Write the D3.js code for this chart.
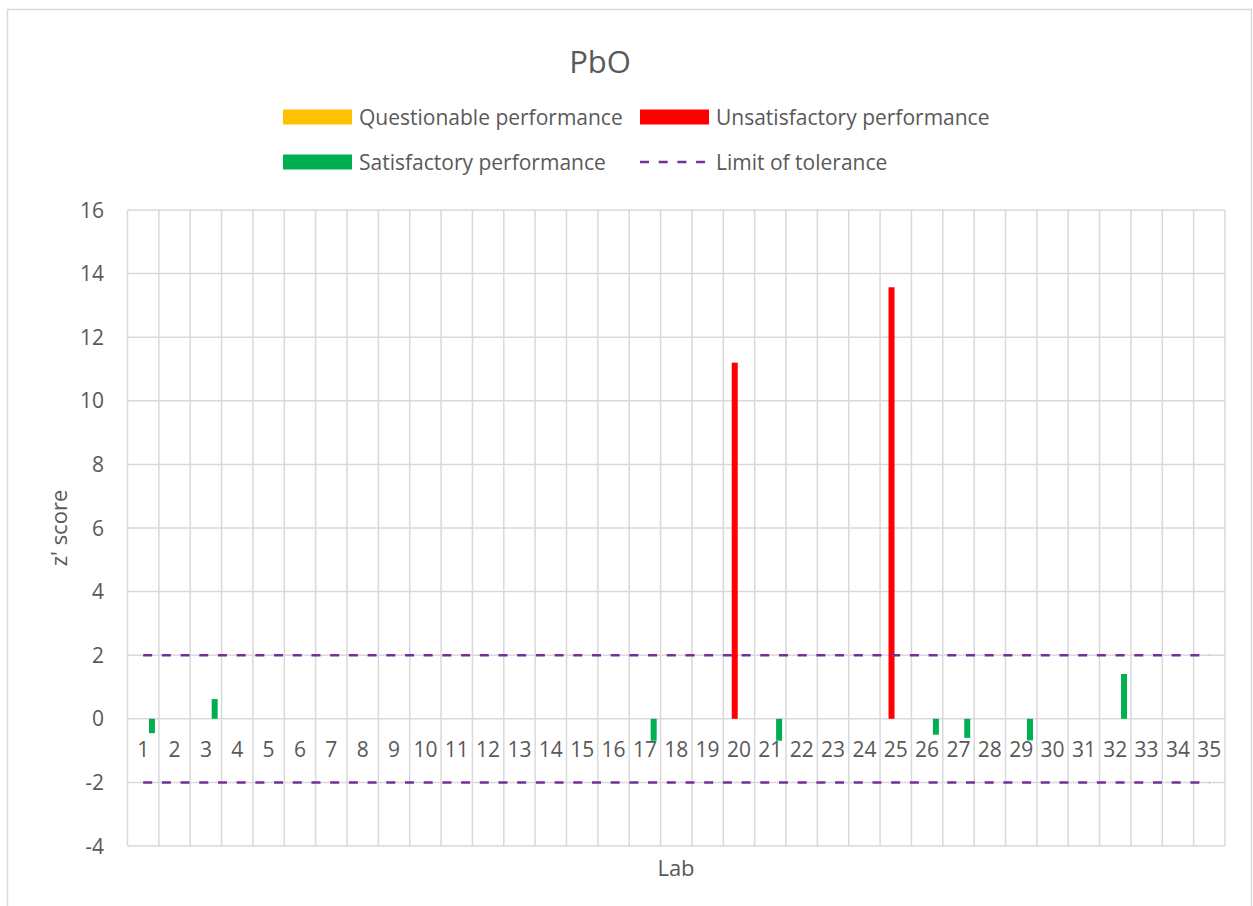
<!DOCTYPE html>
<html>
<head>
<meta charset="utf-8">
<script src="https://cdn.jsdelivr.net/npm/d3@7"></script>
<style>
  body { margin: 0; background: #fff; }
  text { font-family: "Open Sans", Lato, sans-serif; fill: #595959; }
</style>
</head>
<body>
<svg id="chart"></svg>
<script>
const width = 1253;
const height = 906;
const margin = { top: 210, right: 28, bottom: 60, left: 127.5 };

// Data
const labs = ["1","2","3","4","5","6","7","8","9","10","11","12","13","14","15","16","17","18",
              "19","20","21","22","23","24","25","26","27","28","29","30","31","32","33","34","35"];
const yTicks = [-4, -2, 0, 2, 4, 6, 8, 10, 12, 14, 16];

const questionableLabs = [];
const questionableScores = [];
const unsatisfactoryLabs = ["20", "25"];
const unsatisfactoryScores = [11.2, 13.57];
const satisfactoryLabs = ["1", "3", "17", "21", "26", "27", "29", "32"];
const satisfactoryScores = [-0.45, 0.62, -0.69, -0.69, -0.5, -0.6, -0.68, 1.41];
const toleranceLimits = [2, -2];

const series = [
  { key: "Questionable performance", color: "#FFC000", labs: questionableLabs, scores: questionableScores },
  { key: "Unsatisfactory performance", color: "#FF0000", labs: unsatisfactoryLabs, scores: unsatisfactoryScores },
  { key: "Satisfactory performance", color: "#00B050", labs: satisfactoryLabs, scores: satisfactoryScores }
];

const svg = d3.select("#chart")
              .attr("width", width)
              .attr("height", height);

// chart border
svg.append("rect")
   .attr("x", 7.5).attr("y", 9.5)
   .attr("width", width - 9).attr("height", height + 10)
   .attr("fill", "none")
   .attr("stroke", "#d9d9d9")
   .attr("stroke-width", 1.5);

const plotBottom = 846;

// Scales
const x0 = d3.scaleBand()
             .domain(labs)
             .range([margin.left, width - margin.right])
             .padding(0);

const x1 = d3.scalePoint()
             .domain(series.map(s => s.key))
             .range([-0.05 * x0.bandwidth(), 0.78 * x0.bandwidth()]);

const yScale = d3.scaleLinear()
                 .domain([-4, 16])
                 .range([plotBottom, margin.top]);

// Gridlines
const grid = svg.append("g").attr("stroke", "#d9d9d9").attr("stroke-width", 1.5);
grid.selectAll(".hgrid")
    .data(yTicks)
    .enter()
    .append("line")
    .attr("x1", margin.left).attr("x2", width - margin.right)
    .attr("y1", d => yScale(d)).attr("y2", d => yScale(d));

grid.selectAll(".vgrid")
    .data(labs.concat(["end"]))
    .enter()
    .append("line")
    .attr("x1", d => d === "end" ? x0.range()[1] : x0(d))
    .attr("x2", d => d === "end" ? x0.range()[1] : x0(d))
    .attr("y1", margin.top).attr("y2", plotBottom);

// Y axis labels
svg.append("g")
   .selectAll("text")
   .data(yTicks)
   .enter()
   .append("text")
   .attr("x", 104)
   .attr("y", d => yScale(d))
   .attr("dy", "0.36em")
   .attr("text-anchor", "end")
   .style("font-size", "21px")
   .text(d => d);

// Bars
const barWidth = 6;
series.forEach(s => {
  svg.append("g")
     .selectAll("rect")
     .data(s.labs.map((lab, i) => ({ lab, score: s.scores[i] })))
     .enter()
     .append("rect")
     .attr("x", d => x0(d.lab) + x1(s.key) - barWidth / 2)
     .attr("y", d => yScale(Math.max(0, d.score)))
     .attr("width", barWidth)
     .attr("height", d => Math.abs(yScale(d.score) - yScale(0)))
     .attr("fill", s.color);
});

// Category labels (sit next to the zero line)
svg.append("g")
   .selectAll("text")
   .data(labs)
   .enter()
   .append("text")
   .attr("x", d => x0(d) + x0.bandwidth() / 2)
   .attr("y", yScale(0) + 38)
   .attr("text-anchor", "middle")
   .style("font-size", "21px")
   .text(d => d);

// Limit of tolerance lines
toleranceLimits.forEach(v => {
  svg.append("path")
     .attr("d", d3.line().x(d => x0(d) + x0.bandwidth() / 2).y(() => yScale(v))(labs))
     .attr("fill", "none")
     .attr("stroke", "#7030A0")
     .attr("stroke-width", 2.5)
     .attr("stroke-dasharray", "9,9.7");
});

// Title
svg.append("text")
   .attr("x", 600).attr("y", 73)
   .attr("text-anchor", "middle")
   .style("font-size", "31px")
   .text("PbO");

// Axis titles
svg.append("text")
   .attr("x", 676).attr("y", 876)
   .attr("text-anchor", "middle")
   .style("font-size", "22px")
   .text("Lab");

svg.append("text")
   .attr("transform", "translate(67, 528) rotate(-90)")
   .attr("text-anchor", "middle")
   .style("font-size", "22px")
   .text("z' score");

// Legend
const legendItems = [
  { key: series[0].key, color: series[0].color, x: 283, y: 117, type: "bar" },
  { key: series[1].key, color: series[1].color, x: 640, y: 117, type: "bar" },
  { key: series[2].key, color: series[2].color, x: 283, y: 162, type: "bar" },
  { key: "Limit of tolerance", color: "#7030A0", x: 640, y: 162, type: "line" }
];
const legend = svg.append("g").attr("id", "legend");
legendItems.forEach(item => {
  if (item.type === "bar") {
    legend.append("rect")
          .attr("x", item.x).attr("y", item.y - 7.5)
          .attr("width", 69).attr("height", 15)
          .attr("fill", item.color);
  } else {
    legend.append("line")
          .attr("x1", item.x).attr("x2", item.x + 69)
          .attr("y1", item.y).attr("y2", item.y)
          .attr("stroke", item.color)
          .attr("stroke-width", 2.5)
          .attr("stroke-dasharray", "9,9.7");
  }
  legend.append("text")
        .attr("x", item.x + 76)
        .attr("y", item.y)
        .attr("dy", "0.36em")
        .style("font-size", "21px")
        .text(item.key);
});
</script>
</body>
</html>
